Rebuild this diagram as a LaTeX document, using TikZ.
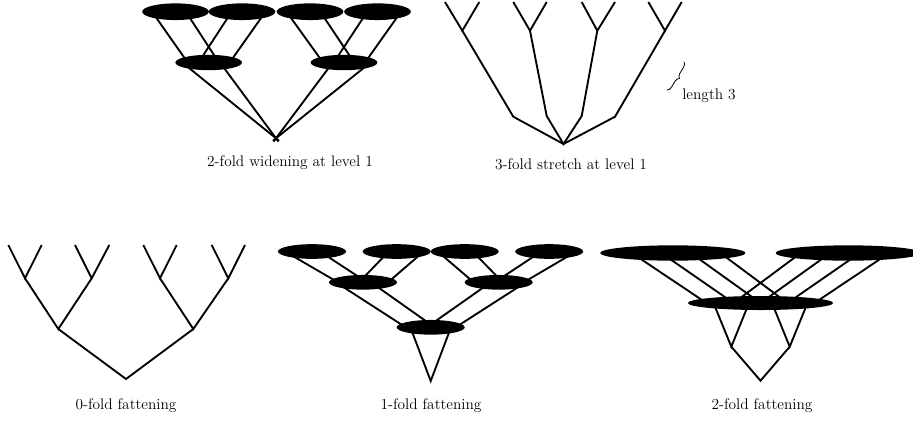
\documentclass[tikz,border=0pt]{standalone}
\usetikzlibrary{shapes.geometric, calc, backgrounds, decorations.pathreplacing}

\begin{document}
\begin{tikzpicture}[x=0.75pt, y=-0.75pt,
  blob/.style={ellipse, fill=black, inner sep=0pt},
  wideblob/.style={blob, minimum width=50pt, minimum height=12.5pt},
  fatblob/.style={blob, minimum width=51pt, minimum height=11pt},
  longblob/.style={blob, minimum width=109pt, minimum height=11.5pt},
  branch/.style={line width=1.4pt},
  caption/.style={font=\fontsize{11.5}{14}\selectfont}
]
\useasboundingbox (0,0) rectangle (913,422);

% 2-fold widening at level 1 (top left)
\node[wideblob] at (175.5,11.7) (wa1) {};
\node[wideblob] at (242,11.7)   (wa2) {};
\node[wideblob] at (310,11.7)   (wa3) {};
\node[wideblob] at (377.5,11.7) (wa4) {};
\node[wideblob, minimum height=11.5pt] at (208.7,62.5) (wb1) {};
\node[wideblob, minimum height=11.5pt] at (344,62.5)   (wb2) {};
\coordinate (wr) at (276,138.3);

% 3-fold stretch at level 1 (top right)
\coordinate (s1) at (445,2);   \coordinate (s2) at (479.3,2);
\coordinate (s3) at (513.3,2); \coordinate (s4) at (546.7,2);
\coordinate (s5) at (581.7,2); \coordinate (s6) at (615,2);
\coordinate (s7) at (648.3,2); \coordinate (s8) at (681.7,2);
\coordinate (sj1) at (462.3,30.7); \coordinate (sj2) at (530,30.7);
\coordinate (sj3) at (597.3,30.7); \coordinate (sj4) at (665,30.7);
\coordinate (sb1) at (513.3,116.7); \coordinate (sb2) at (546.7,116);
\coordinate (sb3) at (581.7,116);   \coordinate (sb4) at (615,116.7);
\coordinate (sr) at (563.5,144);
\coordinate (lenTop) at (684,62);
\coordinate (lenBot) at (667,90);

% 0-fold fattening (bottom left)
\coordinate (z1) at (8.3,245);   \coordinate (z2) at (41.7,245);
\coordinate (z3) at (75,245);    \coordinate (z4) at (109.3,245);
\coordinate (z5) at (143.3,245); \coordinate (z6) at (176.7,245);
\coordinate (z7) at (211.7,245); \coordinate (z8) at (245,245);
\coordinate (zj1) at (25,278.3);  \coordinate (zj2) at (91.7,278.3);
\coordinate (zj3) at (160,278.3); \coordinate (zj4) at (228.3,278.3);
\coordinate (zl1) at (58.3,329);  \coordinate (zl2) at (193.3,329);
\coordinate (zr) at (126,379);

% 1-fold fattening (bottom middle)
\node[fatblob] at (312,251.5)   (fa1) {};
\node[fatblob] at (396.7,251.5) (fa2) {};
\node[fatblob] at (464.7,251.5) (fa3) {};
\node[fatblob] at (549.2,251.5) (fa4) {};
\node[fatblob] at (363,282.3)   (fb1) {};
\node[fatblob] at (498.7,282.3) (fb2) {};
\node[fatblob] at (430.7,327.3) (fc) {};
\coordinate (fr) at (430.7,381);

% 2-fold fattening (bottom right)
\node[longblob] at (672.8,253) (ga1) {};
\node[longblob] at (848.2,253) (ga2) {};
\node[longblob, minimum height=10.5pt] at (760.5,303) (gb) {};
\coordinate (gj1) at (731.3,346.7);
\coordinate (gj2) at (789.7,346.7);
\coordinate (gr) at (760.5,380.7);

\begin{scope}[on background layer]
% widening: level 2 -> level 1
\draw[branch] ($(wa1)+(-23.5,0)$) -- ($(wb1)+(-21,0)$);
\draw[branch] ($(wa1)+(10.3,0)$)  -- ($(wb1)+(10.2,0)$);
\draw[branch] ($(wa2)+(-10.3,0)$) -- ($(wb1)+(-10.2,0)$);
\draw[branch] ($(wa2)+(23.5,0)$)  -- ($(wb1)+(21,0)$);
\draw[branch] ($(wa3)+(-23.5,0)$) -- ($(wb2)+(-21,0)$);
\draw[branch] ($(wa3)+(10.3,0)$)  -- ($(wb2)+(10.2,0)$);
\draw[branch] ($(wa4)+(-10.3,0)$) -- ($(wb2)+(-10.2,0)$);
\draw[branch] ($(wa4)+(23.5,0)$)  -- ($(wb2)+(21,0)$);
% widening: level 1 -> root
\draw[branch, shorten >=-3pt] ($(wb1)+(-26.5,0)$) -- (wr);
\draw[branch, shorten >=-3pt] ($(wb1)+(11.3,0)$)  -- (wr);
\draw[branch, shorten >=-3pt] ($(wb2)+(-11.3,0)$) -- (wr);
\draw[branch, shorten >=-3pt] ($(wb2)+(26.5,0)$)  -- (wr);

% 1-fold: level 2 -> level 1 -> root
\draw[branch] ($(fa1)+(-27,0)$) -- ($(fb1)+(-25,0)$);
\draw[branch] ($(fa1)+(8,0)$)   -- ($(fb1)+(4,0)$);
\draw[branch] ($(fa2)+(-8,0)$)  -- ($(fb1)+(-4,0)$);
\draw[branch] ($(fa2)+(27,0)$)  -- ($(fb1)+(25,0)$);
\draw[branch] ($(fa3)+(-27,0)$) -- ($(fb2)+(-25,0)$);
\draw[branch] ($(fa3)+(8,0)$)   -- ($(fb2)+(4,0)$);
\draw[branch] ($(fa4)+(-8,0)$)  -- ($(fb2)+(-4,0)$);
\draw[branch] ($(fa4)+(27,0)$)  -- ($(fb2)+(25,0)$);
\draw[branch] ($(fb1)+(-27,0)$) -- ($(fc)+(-25,0)$);
\draw[branch] ($(fb1)+(8,0)$)   -- ($(fc)+(4,0)$);
\draw[branch] ($(fb2)+(-8,0)$)  -- ($(fc)+(-4,0)$);
\draw[branch] ($(fb2)+(27,0)$)  -- ($(fc)+(25,0)$);
\draw[branch] ($(fc)+(-20.3,0)$) -- (fr) -- ($(fc)+(20.3,0)$);

% 2-fold: crossing strands
\draw[branch] ($(ga1)+(-41,0)$)   -- ($(gb)+(-54,0)$);
\draw[branch] ($(ga1)+(-11.5,0)$) -- ($(gb)+(-27,0)$);
\draw[branch] ($(ga1)+(18,0)$)    -- ($(gb)+(0,0)$);
\draw[branch] ($(ga1)+(47.5,0)$)  -- ($(gb)+(27,0)$);
\draw[branch] ($(ga2)+(41,0)$)    -- ($(gb)+(54,0)$);
\draw[branch] ($(ga2)+(11.5,0)$)  -- ($(gb)+(27,0)$);
\draw[branch] ($(ga2)+(-18,0)$)   -- ($(gb)+(0,0)$);
\draw[branch] ($(ga2)+(-47.5,0)$) -- ($(gb)+(-27,0)$);
\draw[branch] ($(gb)+(-47,0)$) -- (gj1) -- ($(gb)+(-11.5,0)$);
\draw[branch] ($(gb)+(11.5,0)$) -- (gj2) -- ($(gb)+(47,0)$);
\draw[branch] (gj1) -- (gr) -- (gj2);
\end{scope}

% stretch tree
\draw[branch] (s1) -- (sj1) -- (s2);
\draw[branch] (s3) -- (sj2) -- (s4);
\draw[branch] (s5) -- (sj3) -- (s6);
\draw[branch] (s7) -- (sj4) -- (s8);
\draw[branch] (sj1) -- (sb1) -- (sr) -- (sb4) -- (sj4);
\draw[branch] (sj2) -- (sb2) -- (sr) -- (sb3) -- (sj3);
\draw[decorate, decoration={brace, amplitude=3.5pt}, line width=0.6pt] (lenTop) -- (lenBot);

% plain tree
\draw[branch] (z1) -- (zj1) -- (z2);
\draw[branch] (z3) -- (zj2) -- (z4);
\draw[branch] (z5) -- (zj3) -- (z6);
\draw[branch] (z7) -- (zj4) -- (z8);
\draw[branch] (zj1) -- (zl1) -- (zj2);
\draw[branch] (zj3) -- (zl2) -- (zj4);
\draw[branch] (zl1) -- (zr) -- (zl2);

% Captions
\node[caption] at (290,163)   (capWiden)   {2-fold widening at level 1};
\node[caption] at (571,164)   (capStretch) {3-fold stretch at level 1};
\node[caption] at (709,96)    (capLength)  {length 3};
\node[caption] at (126,406)   (capZero)    {0-fold fattening};
\node[caption] at (431,406)   (capOne)     {1-fold fattening};
\node[caption] at (762,406)   (capTwo)     {2-fold fattening};
\end{tikzpicture}
\end{document}
